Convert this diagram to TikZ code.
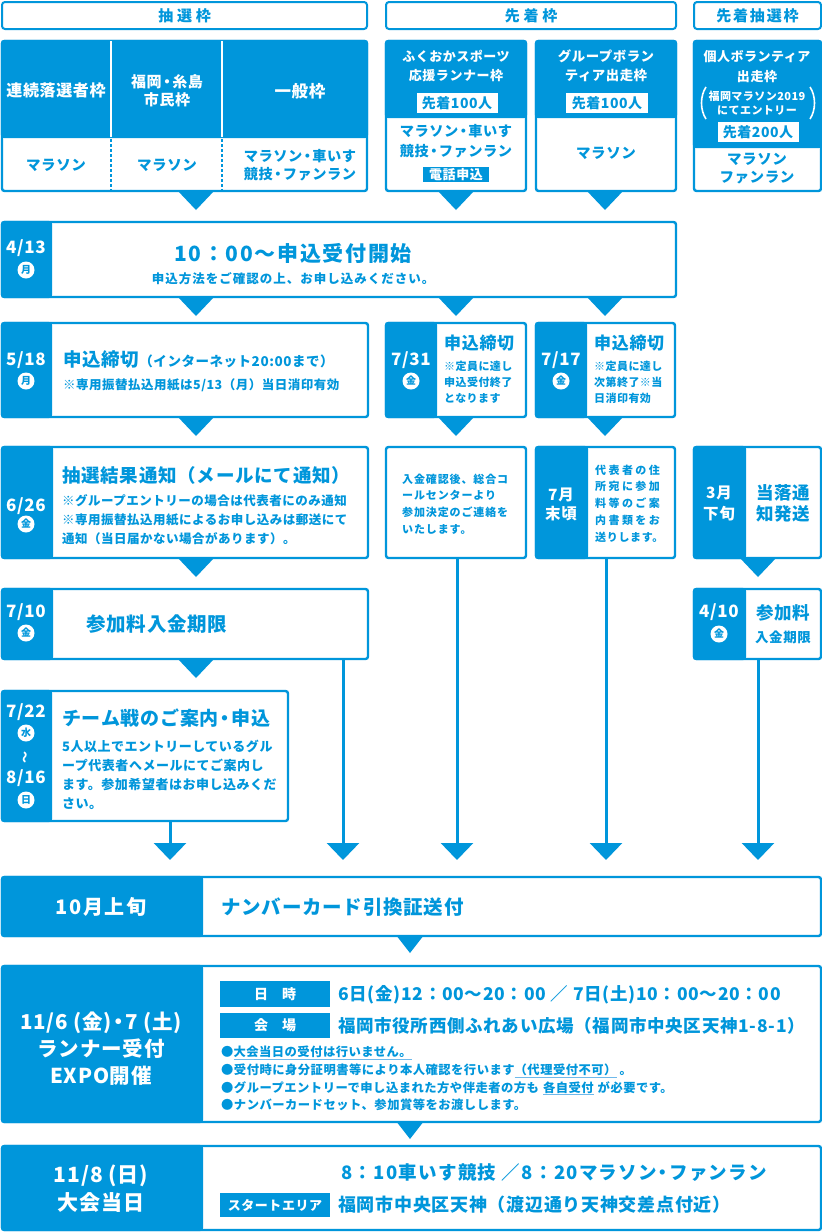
\documentclass[tikz,border=0pt]{standalone}
\usepackage{fontspec}
\setmainfont{Noto Sans CJK JP}[LetterSpace=4]
\usetikzlibrary{arrows.meta}
\definecolor{mb}{RGB}{0,150,219}
\definecolor{lb}{RGB}{110,185,235}
\newcommand\fsz[2]{\fontsize{#1}{#2}\selectfont}
\newcommand\dtri[4]{\fill[mb] (#1 -| #2) ++(-#3,-1) -- ++(2*#3,0) -- ++(-#3,#4) -- cycle;}
\newcommand\ulb[1]{{\color{lb}\underline{\color{mb}#1}}}
\newcommand\nd{\hspace{1.5pt}{\addfontfeatures{RawFeature=+halt}・}\hspace{1.5pt}}
\begin{document}
\begin{tikzpicture}[x=1pt,y=-1pt,
 bx/.style={draw=mb, line width=2.4pt, fill=white, rounded corners=2.5pt, inner sep=0pt, outer sep=0pt, anchor=north west},
 bp/.style={draw=mb, line width=2.4pt, fill=mb, rounded corners=2.5pt, inner sep=0pt, outer sep=0pt, anchor=north west},
 hd/.style={draw=mb, line width=2pt, fill=white, rounded corners=3pt, inner sep=0pt, outer sep=0pt, anchor=north west},
 wt/.style={text=white, inner sep=0pt, align=center},
 bt/.style={text=mb, inner sep=0pt, align=center},
 btl/.style={text=mb, inner sep=0pt, align=left, anchor=west},
 dt/.style={text=white, inner sep=0pt, font={\bfseries\fsz{17}{17}}},
 dc/.style={circle, fill=white, text=mb, inner sep=0pt, minimum size=17pt, font={\bfseries\fsz{10}{10}}},
 lab/.style={fill=white, text=mb, inner sep=0pt, font={\bfseries\fsz{14}{14}}},
 tag/.style={fill=mb, text=white, inner sep=0pt},
 ar/.style={draw=mb, line width=3pt, -{Triangle[width=32pt,length=17pt]}},
]
\useasboundingbox (0,0) rectangle (822,1232);
\fill[white] (0,0) rectangle (822,1232);

% x positions
\coordinate (x196) at (196,0);
\coordinate (x456) at (456,0);
\coordinate (x605) at (605,0);
\coordinate (x758) at (758,0);
\coordinate (x410) at (410,0);
\coordinate (e170) at (170,860);
\coordinate (e343) at (343,860);
\coordinate (e457) at (457,860);
\coordinate (e606) at (606,860);
\coordinate (e758) at (758,860);

% headers
\node[hd, minimum width=365pt, minimum height=27pt] (h1) at (2,2) {};
\node[hd, minimum width=290pt, minimum height=27pt] (h2) at (386,2) {};
\node[hd, minimum width=127pt, minimum height=27pt] (h3) at (694,2) {};
\node[bt, font={\bfseries\fsz{15}{15}\addfontfeatures{LetterSpace=25}}] (h1t) at (h1.center) {抽選枠};
\node[bt, font={\bfseries\fsz{15}{15}\addfontfeatures{LetterSpace=25}}] (h2t) at (h2.center) {先着枠};
\node[bt, font={\bfseries\fsz{15}{15}\addfontfeatures{LetterSpace=12}}] (h3t) at (h3.center) {先着抽選枠};

% category 1
\node[bx, minimum width=365pt, minimum height=150pt] (c1) at (2,41) {};
\node[bp, minimum width=365pt, minimum height=96pt] (c1b) at (2,41) {};
\draw[white, line width=2pt] (111,41) -- (111,137) (222,41) -- (222,137);
\draw[mb, line width=1.5pt, dash pattern=on 3pt off 2pt] (111,139) -- (111,191) (222,139) -- (222,191);
\node[wt, font={\bfseries\fsz{16}{16}}] (c1a) at (56,90) {連続落選者枠};
\node[wt, font={\bfseries\fsz{15}{18}}] (c1c) at (167,91) {福岡\nd 糸島\\市民枠};
\node[wt, font={\bfseries\fsz{16.5}{16.5}}] (c1e) at (300,91) {一般枠};
\node[bt, font={\bfseries\fsz{14.5}{14.5}}] (c1f) at (56,165) {マラソン};
\node[bt, font={\bfseries\fsz{14.5}{14.5}}] (c1g) at (167,165) {マラソン};
\node[bt, font={\bfseries\fsz{14.2}{18}}] (c1h) at (300,165) {マラソン\nd 車いす\\競技\nd ファンラン};

% category 2
\node[bx, minimum width=140pt, minimum height=150pt] (c2) at (386,41) {};
\node[bp, minimum width=140pt, minimum height=76pt] (c2b) at (386,41) {};
\node[wt, font={\bfseries\fsz{13}{19}}] (c2a) at (456,66) {ふくおかスポーツ\\応援ランナー枠};
\node[lab, minimum width=81pt, minimum height=20pt] (c2n) at (457,103) {先着100人};
\node[bt, font={\bfseries\fsz{14.2}{20}}] (c2m) at (456,141) {マラソン\nd 車いす\\競技\nd ファンラン};
\node[tag, minimum width=66pt, minimum height=15pt, font={\bfseries\fsz{13}{13}}] (c2t) at (456,174.5) {電話申込};

% category 3
\node[bx, minimum width=140pt, minimum height=150pt] (c3) at (536,41) {};
\node[bp, minimum width=140pt, minimum height=76pt] (c3b) at (536,41) {};
\node[wt, font={\bfseries\fsz{13.4}{19}}] (c3a) at (606,66) {グループボラン\\ティア出走枠};
\node[lab, minimum width=82pt, minimum height=20pt] (c3n) at (607,103) {先着100人};
\node[bt, font={\bfseries\fsz{14.5}{14.5}}] (c3m) at (606,153) {マラソン};

% category 4
\node[bx, minimum width=127pt, minimum height=150pt] (c4) at (694,41) {};
\node[bp, minimum width=127pt, minimum height=106pt] (c4b) at (694,41) {};
\node[wt, font={\bfseries\fsz{13}{20}}] (c4a) at (757,67) {個人ボランティア\\出走枠};
\node[wt, font={\bfseries\fsz{11}{14}}] (c4p) at (757,103) {福岡マラソン2019\\にてエントリー};
\draw[white, line width=1.6pt] (706,87) .. controls (700,96) and (700,110) .. (706,119);
\draw[white, line width=1.6pt] (810,87) .. controls (816,96) and (816,110) .. (810,119);
\node[lab, minimum width=81pt, minimum height=20pt] (c4n) at (758,132) {先着200人};
\node[bt, font={\bfseries\fsz{14.5}{18}}] (c4m) at (757,169) {マラソン\\ファンラン};

\dtri{c1.south}{x196}{19}{20}
\dtri{c2.south}{x456}{19}{20}
\dtri{c3.south}{x605}{19}{20}

% row A
\node[bx, minimum width=674pt, minimum height=75pt] (rA) at (2,222) {};
\node[bp, minimum width=49pt, minimum height=75pt] (rAb) at (2,222) {};
\node[dt] (rAd) at (26,248) {4/13};
\node[dc] (rAc) at (26,270) {月};
\node[bt, font={\bfseries\fsz{21}{21}\addfontfeatures{LetterSpace=8}}] (rAt) at (293,253) {10：00～申込受付開始};
\node[bt, font={\bfseries\fsz{12.5}{12.5}\addfontfeatures{LetterSpace=8}}] (rAs) at (293,279) {申込方法をご確認の上、お申し込みください。};
\dtri{rA.south}{x196}{19}{20}
\dtri{rA.south}{x456}{19}{20}
\dtri{rA.south}{x605}{19}{20}

% row B
\node[bx, minimum width=366pt, minimum height=94pt] (rB1) at (2,323) {};
\node[bp, minimum width=49pt, minimum height=94pt] (rB1b) at (2,323) {};
\node[dt] (rB1d) at (26,360) {5/18};
\node[dc] (rB1c) at (26,381) {月};
\node[btl] (rB1t) at (63,360) {\bfseries\fsz{18.5}{18.5}申込締切\fsz{13.5}{13.5}（インターネット20:00まで）};
\node[btl, font={\bfseries\fsz{12.5}{12.5}}] (rB1s) at (63,385) {※専用振替払込用紙は5/13（月）当日消印有効};

\node[bx, minimum width=140pt, minimum height=94pt] (rB2) at (386,323) {};
\node[bp, minimum width=50pt, minimum height=94pt] (rB2b) at (386,323) {};
\node[dt] (rB2d) at (411,360) {7/31};
\node[dc] (rB2c) at (411,381) {金};
\node[btl, font={\bfseries\fsz{17}{17}}] (rB2t) at (444,343) {申込締切};
\node[btl, font={\bfseries\fsz{11}{16}}] (rB2s) at (444,382) {※定員に達し\\申込受付終了\\となります};

\node[bx, minimum width=139pt, minimum height=94pt] (rB3) at (536,323) {};
\node[bp, minimum width=50pt, minimum height=94pt] (rB3b) at (536,323) {};
\node[dt] (rB3d) at (561,360) {7/17};
\node[dc] (rB3c) at (561,381) {金};
\node[btl, font={\bfseries\fsz{17}{17}}] (rB3t) at (594,343) {申込締切};
\node[btl, font={\bfseries\fsz{11}{16}}] (rB3s) at (594,382) {※定員に達し\\次第終了※当\\日消印有効};

\dtri{rB1.south}{x196}{19}{20}
\dtri{rB2.south}{x456}{19}{20}
\dtri{rB3.south}{x605}{19}{20}

% row C
\node[bx, minimum width=366pt, minimum height=111pt] (rC1) at (2,447) {};
\node[bp, minimum width=50pt, minimum height=111pt] (rC1b) at (2,447) {};
\node[dt] (rC1d) at (26,506) {6/26};
\node[dc] (rC1c) at (26,524) {金};
\node[btl, font={\bfseries\fsz{18.5}{18.5}}] (rC1t) at (62,475) {抽選結果通知（メールにて通知）};
\node[btl, font={\bfseries\fsz{12.5}{19}}] (rC1s) at (62,520) {※グループエントリーの場合は代表者にのみ通知\\※専用振替払込用紙によるお申し込みは郵送にて\\通知（当日届かない場合があります）。};

\node[bx, minimum width=140pt, minimum height=111pt] (rC2) at (386,447) {};
\node[btl, font={\bfseries\fsz{11}{16.7}\addfontfeatures{LetterSpace=8}}] (rC2t) at (402,504) {入金確認後、総合コ\\ールセンターより\\参加決定のご連絡を\\いたします。};

\node[bx, minimum width=139pt, minimum height=111pt] (rC3) at (536,447) {};
\node[bp, minimum width=51pt, minimum height=111pt] (rC3b) at (536,447) {};
\node[wt, font={\bfseries\fsz{15.5}{19}}] (rC3d) at (561,504) {7月\\末頃};
\node[btl, font={\bfseries\fsz{11}{16.75}\addfontfeatures{LetterSpace=22}}] (rC3t) at (595,503.5) {代表者の住\\所宛に参加\\料等のご案\\内書類をお\\{\addfontfeatures{LetterSpace=6}送りします。}};

\node[bx, minimum width=127pt, minimum height=111pt] (rC4) at (694,447) {};
\node[bp, minimum width=51pt, minimum height=111pt] (rC4b) at (694,447) {};
\node[wt, font={\bfseries\fsz{15.5}{21}}] (rC4d) at (719,503.5) {3月\\下旬};
\node[bt, font={\bfseries\fsz{17.5}{21}}] (rC4t) at (783,503.5) {当落通\\知発送};

\dtri{rC1.south}{x196}{19}{20}
\dtri{rC4.south}{x758}{19}{20}

% row D
\node[bx, minimum width=366pt, minimum height=70pt] (rD1) at (2,589) {};
\node[bp, minimum width=50pt, minimum height=70pt] (rD1b) at (2,589) {};
\node[dt] (rD1d) at (26,612) {7/10};
\node[dc] (rD1c) at (26,633) {金};
\node[btl, font={\bfseries\fsz{19.5}{19.5}}] (rD1t) at (86,624) {参加料入金期限};

\node[bx, minimum width=127pt, minimum height=70pt] (rD4) at (694,589) {};
\node[bp, minimum width=51pt, minimum height=70pt] (rD4b) at (694,589) {};
\node[dt] (rD4d) at (719,612) {4/10};
\node[dc] (rD4c) at (719,634) {金};
\node[bt, font={\bfseries\fsz{17.5}{17.5}}] (rD4t) at (783,613) {参加料};
\node[bt, font={\bfseries\fsz{13.5}{13.5}}] (rD4u) at (783,637) {入金期限};

\dtri{rD1.south}{x196}{19}{20}

% row E
\node[bx, minimum width=286pt, minimum height=130pt] (rE1) at (2,691) {};
\node[bp, minimum width=49pt, minimum height=130pt] (rE1b) at (2,691) {};
\node[dt] (rE1d) at (26,712) {7/22};
\node[dc] (rE1c) at (26,733) {水};
\node[wt, rotate=90, font={\bfseries\fsz{12}{12}}] (rE1w) at (26,757) {～};
\node[dt] (rE1e) at (26,778) {8/16};
\node[dc] (rE1f) at (26,800) {日};
\node[btl, font={\bfseries\fsz{19}{19}}] (rE1t) at (62,718) {チーム戦のご案内\nd 申込};
\node[btl, font={\bfseries\fsz{13}{19}}] (rE1s) at (62,774.5) {5人以上でエントリーしているグル\\ープ代表者へメールにてご案内し\\ます。参加希望者はお申し込みくだ\\さい。};

% long arrows
\draw[ar] (rE1.south -| e170) -- (e170);
\draw[ar] (rD1.south -| e343) -- (e343);
\draw[ar] (rC2.south -| e457) -- (e457);
\draw[ar] (rC3.south -| e606) -- (e606);
\draw[ar] (rD4.south -| e758) -- (e758);

% row F
\node[bx, minimum width=819pt, minimum height=59pt] (rF) at (2,877) {};
\node[bp, minimum width=200pt, minimum height=59pt] (rFb) at (2,877) {};
\node[wt, font={\bfseries\fsz{20}{20}\addfontfeatures{LetterSpace=8}}] (rFd) at (101,906.5) {10月上旬};
\node[btl, font={\bfseries\fsz{19.5}{19.5}}] (rFt) at (221,907) {ナンバーカード引換証送付};
\dtri{rF.south}{x410}{14}{18}

% row G
\node[bx, minimum width=819pt, minimum height=156pt] (rG) at (2,966) {};
\node[bp, minimum width=200pt, minimum height=156pt] (rGb) at (2,966) {};
\node[wt, font={\bfseries\fsz{20.5}{27}}] (rGd) at (101,1049) {11/6 (金)\nd 7 (土)\\ランナー受付\\EXPO開催};
\node[tag, minimum width=110pt, minimum height=26pt, font={\bfseries\fsz{14}{14}}] (rGl1) at (275,994) {日\hspace{14pt}時};
\node[btl, font={\bfseries\fsz{17.5}{17.5}}] (rGv1) at (338,995) {6日(金)12：00～20：00 ／ 7日(土)10：00～20：00};
\node[tag, minimum width=110pt, minimum height=25pt, font={\bfseries\fsz{14}{14}}] (rGl2) at (275,1025.5) {会\hspace{14pt}場};
\node[btl, font={\bfseries\fsz{17.5}{17.5}}] (rGv2) at (338,1026) {福岡市役所西側ふれあい広場（福岡市中央区天神1-8-1）};
\node[btl, font={\bfseries\fsz{12.3}{17.7}}] (rGs) at (221,1078.5) {●\ulb{大会当日の受付は行いません。}\\●受付時に身分証明書等により本人確認を行います\ulb{（代理受付不可）}\hspace{3pt}。\\●グループエントリーで申し込まれた方や伴走者の方も\hspace{4pt}\ulb{各自受付}\hspace{4pt}が必要です。\\●ナンバーカードセット、参加賞等をお渡しします。};
\dtri{rG.south}{x410}{14}{18}

% row H
\node[bx, minimum width=819pt, minimum height=84pt] (rH) at (2,1146) {};
\node[bp, minimum width=200pt, minimum height=84pt] (rHb) at (2,1146) {};
\node[wt, font={\bfseries\fsz{21}{28}}] (rHd) at (101,1189) {11/8 (日)\\大会当日};
\node[btl, font={\bfseries\fsz{18.5}{18.5}\addfontfeatures{LetterSpace=7}}] (rHt) at (341,1173) {8：10車いす競技 ／8：20マラソン\nd ファンラン};
\node[tag, minimum width=110pt, minimum height=24pt, font={\bfseries\fsz{13}{13}}] (rHl) at (275,1205) {スタートエリア};
\node[btl, font={\bfseries\fsz{18}{18}}] (rHv) at (338,1205) {福岡市中央区天神（渡辺通り天神交差点付近）};
\end{tikzpicture}
\end{document}
